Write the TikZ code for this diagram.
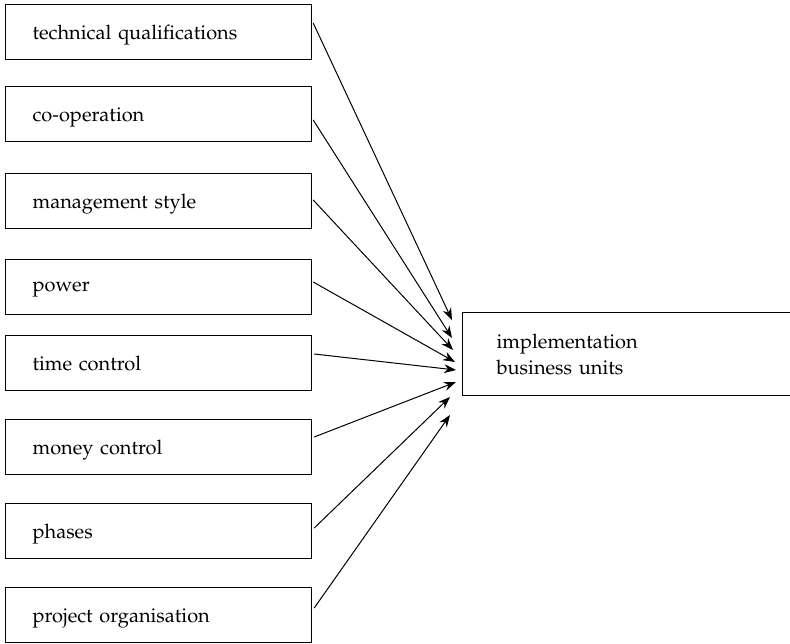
\documentclass[tikz,border=0pt]{standalone}
\usepackage[T1]{fontenc}
\usepackage{mathpazo}
\usetikzlibrary{calc,arrows.meta}
\begin{document}
\begin{tikzpicture}[x=1pt,y=-1pt,
  box/.style={draw, line width=1.2pt, anchor=north west, minimum width=306pt, minimum height=55pt,
    text width=252pt, inner xsep=27pt, align=left, text depth=0pt, font=\fontsize{20}{24}\selectfont},
  conn/.style={line width=1pt, -{Stealth[length=12pt,width=9pt]}}]
\useasboundingbox (0,0) rectangle (790,643);
\node[box] (b1) at (5,4) {technical qualifications};
\node[box] (b2) at (5,86) {co-operation};
\node[box] (b3) at (5,173) {management style};
\node[box] (b4) at (5,259) {power};
\node[box] (b5) at (5,335) {time control};
\node[box] (b6) at (5,419) {money control};
\node[box] (b7) at (5,503) {phases};
\node[box] (b8) at (5,587) {project organisation};
\node[draw, line width=1.2pt, anchor=north west, minimum width=340pt, minimum height=83pt,
  text width=300pt, inner xsep=34pt, align=left, font=\fontsize{20}{26}\selectfont] (t) at (462,312)
  {implementation\\business units};
\coordinate (e1) at (452,320);
\coordinate (e2) at (452,338);
\coordinate (e3) at (453,350);
\coordinate (e4) at (455,362);
\coordinate (e5) at (456,370);
\coordinate (e6) at (456,382);
\coordinate (e7) at (450,397);
\coordinate (e8) at (450,415);
\draw[conn] ($(b1.north east)+(1,19)$) -- (e1);
\draw[conn] ($(b2.north east)+(1,34)$) -- (e2);
\draw[conn] ($(b3.north east)+(1,27)$) -- (e3);
\draw[conn] ($(b4.north east)+(1,23)$) -- (e4);
\draw[conn] ($(b5.north east)+(2,19)$) -- (e5);
\draw[conn] ($(b6.north east)+(2,18)$) -- (e6);
\draw[conn] ($(b7.north east)+(2,25)$) -- (e7);
\draw[conn] ($(b8.north east)+(2,21)$) -- (e8);
\end{tikzpicture}
\end{document}
